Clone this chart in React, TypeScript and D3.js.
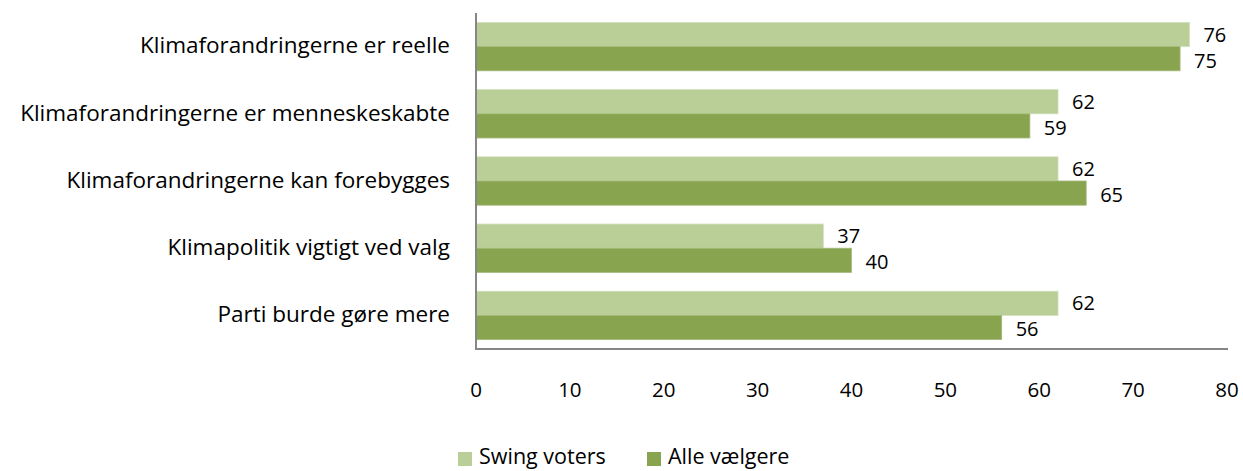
import React from "react";
import * as d3 from "d3";

const categories = [
  "Klimaforandringerne er reelle",
  "Klimaforandringerne er menneskeskabte",
  "Klimaforandringerne kan forebygges",
  "Klimapolitik vigtigt ved valg",
  "Parti burde gøre mere",
];
const seriesNames = ["Swing voters", "Alle vælgere"];
const swingVoters = [76, 62, 62, 37, 62];
const alleVaelgere = [75, 59, 65, 40, 56];
const xTicks = [0, 10, 20, 30, 40, 50, 60, 70, 80];

const colors = ["#BACE97", "#89A44E"];
const FONT = "'Open Sans', sans-serif";
const FS = 22.5;

export default function App() {
  const width = 1243;
  const height = 471;
  const left = 476;
  const right = 1227;
  const top = 13;
  const bottom = 349;

  const x = d3.scaleLinear().domain([0, 80]).range([left, right]);
  const y = d3
    .scaleBand<string>()
    .domain(categories)
    .range([top, bottom])
    .paddingInner(0.28)
    .paddingOuter(0.14);
  const bh = y.bandwidth() / 2;
  const series = [swingVoters, alleVaelgere];

  return (
    <svg
      width={width}
      height={height}
      style={{ position: "absolute", left: 0, top: 0 }}
      fontFamily={FONT}
    >
      {categories.map((c, i) => (
        <g key={c}>
          {series.map((s, j) => (
            <g key={j}>
              <rect
                x={x(0)}
                y={(y(c) as number) + j * bh}
                width={x(s[i]) - x(0)}
                height={bh}
                fill={colors[j]}
                stroke={j === 0 ? "#D3E0BC" : "#A3B97A"}
                strokeWidth={0.8}
              />
              <text
                x={x(s[i]) + 14}
                y={(y(c) as number) + j * bh + bh / 2 + (j === 0 ? 0 : 2)}
                dy="0.35em"
                fontSize={20}
                fill="#000"
              >
                {s[i]}
              </text>
            </g>
          ))}
          <text
            x={450}
            y={(y(c) as number) + y.bandwidth() / 2 - 1}
            dy="0.35em"
            textAnchor="end"
            fontSize={FS}
            fill="#000"
          >
            {c}
          </text>
        </g>
      ))}
      <line x1={left} x2={left} y1={top} y2={bottom} stroke="#868686" strokeWidth={2} />
      <line x1={left - 1} x2={right + 1} y1={bottom} y2={bottom} stroke="#868686" strokeWidth={2} />
      {xTicks.map((t) => (
        <text key={t} x={x(t)} y={390} dy="0.35em" textAnchor="middle" fontSize={20.5} fill="#000">
          {t}
        </text>
      ))}
      {seriesNames.map((n, j) => {
        const lx = j === 0 ? 458 : 647;
        return (
          <g key={n}>
            <rect x={lx} y={452} width={14} height={14} fill={colors[j]} />
            <text x={lx + 21} y={456} dy="0.35em" fontSize={21.5} fill="#000">
              {n}
            </text>
          </g>
        );
      })}
    </svg>
  );
}
